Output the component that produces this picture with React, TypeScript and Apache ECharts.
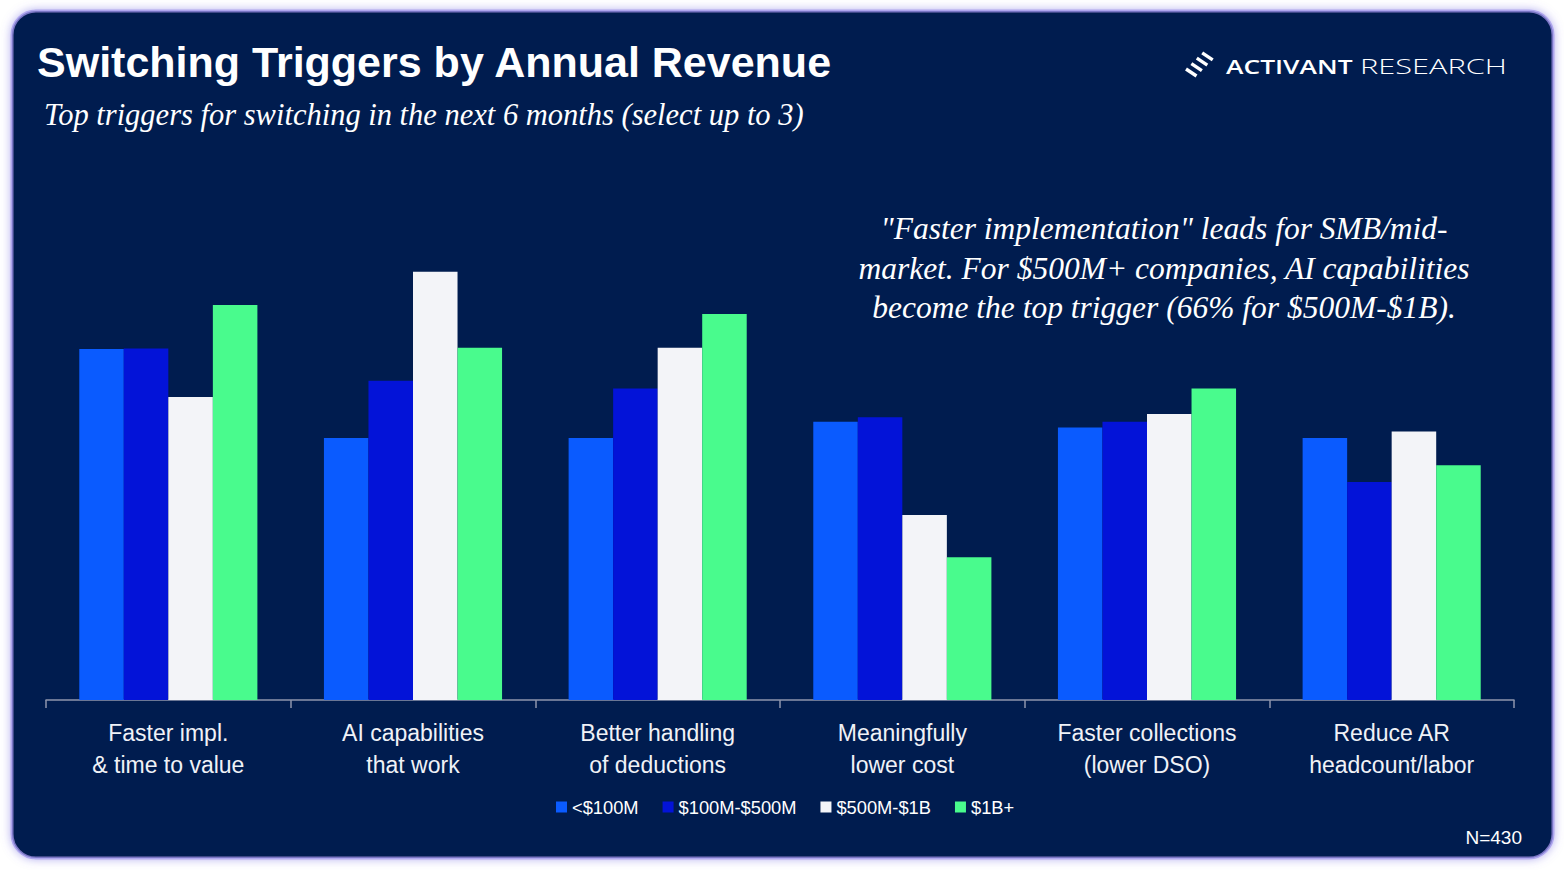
import React, { useEffect, useRef } from "react";
import * as echarts from "echarts";

const categories = [
  "Faster impl.\n& time to value",
  "AI capabilities\nthat work",
  "Better handling\nof deductions",
  "Meaningfully\nlower cost",
  "Faster collections\n(lower DSO)",
  "Reduce AR\nheadcount/labor",
];
const seriesNames = ["<$100M", "$100M-$500M", "$500M-$1B", "$1B+"];
const revUnder100M = [54.1, 40.4, 40.4, 42.9, 42.0, 40.4];
const rev100Mto500M = [54.2, 49.2, 48.0, 43.6, 42.9, 33.6];
const rev500Mto1B = [46.7, 66.0, 54.3, 28.5, 44.1, 41.4];
const rev1BPlus = [60.9, 54.3, 59.5, 22.0, 48.0, 36.2];
const seriesColors = ["#0a5bff", "#0313d8", "#f3f4f8", "#49fb8d"];

const titleText = "Switching Triggers by Annual Revenue";
const subtitleText = "Top triggers for switching in the next 6 months (select up to 3)";
const annotationText =
  "\"Faster implementation\" leads for SMB/mid-\nmarket. For $500M+ companies, AI capabilities\nbecome the top trigger (66% for $500M-$1B).";
const sampleText = "N=430";

const SANS = "'Liberation Sans', Arial, Helvetica, sans-serif";
const SERIF = "'Liberation Serif', 'Times New Roman', serif";

export default function App() {
  const ref = useRef<HTMLDivElement>(null);

  useEffect(() => {
    if (!ref.current) return;
    const chart = echarts.init(ref.current, undefined, { renderer: "svg" });
    const allData = [revUnder100M, rev100Mto500M, rev500Mto1B, rev1BPlus];

    const stripes = [0, 1, 2, 3].map((k) => ({
      type: "line",
      z: 5,
      shape: {
        x1: 1186 + 5.4 * k,
        y1: 69 - 5.4 * k,
        x2: 1196.5 + 5.4 * k,
        y2: 76 - 5.4 * k,
      },
      style: { stroke: "#ffffff", lineWidth: 3.4, lineCap: "butt" },
    }));

    chart.setOption({
      animation: false,
      backgroundColor: "#ffffff",
      graphic: [
        {
          type: "rect",
          z: 0,
          shape: { x: 12, y: 11, width: 1541, height: 847, r: 24 },
          style: {
            fill: "#061b50",
            stroke: "rgba(160,150,235,0.75)",
            lineWidth: 3,
            shadowBlur: 10,
            shadowColor: "rgba(110,100,225,0.55)",
          },
        },
        {
          type: "text",
          z: 5,
          x: 37,
          y: 62,
          style: {
            text: titleText,
            fill: "#ffffff",
            font: `bold 43px ${SANS}`,
            textAlign: "left",
            textVerticalAlign: "middle",
          },
        },
        {
          type: "text",
          z: 5,
          x: 44,
          y: 115,
          style: {
            text: subtitleText,
            fill: "#ffffff",
            font: `italic 30.5px ${SERIF}`,
            textAlign: "left",
            textVerticalAlign: "middle",
          },
        },
        {
          type: "text",
          z: 5,
          x: 1164,
          y: 209,
          style: {
            text: annotationText,
            fill: "#ffffff",
            font: `italic 31.5px ${SERIF}`,
            lineHeight: 39.5,
            textAlign: "center",
            textVerticalAlign: "top",
          },
        },
        ...stripes,
        {
          type: "text",
          z: 5,
          x: 1226,
          y: 66,
          scaleX: 1.32,
          style: {
            text: "ACTIVANT",
            fill: "#ffffff",
            font: `600 20px 'Open Sans', 'DejaVu Sans', sans-serif`,
            textAlign: "left",
            textVerticalAlign: "middle",
          },
        },
        {
          type: "text",
          z: 5,
          x: 1360,
          y: 66,
          scaleX: 1.5,
          style: {
            text: "RESEARCH",
            fill: "#ffffff",
            font: `300 20.5px 'Open Sans', 'DejaVu Sans', sans-serif`,
            textAlign: "left",
            textVerticalAlign: "middle",
          },
        },
        {
          type: "text",
          z: 5,
          x: 1522,
          y: 837,
          style: {
            text: sampleText,
            fill: "#ffffff",
            font: `19px ${SANS}`,
            textAlign: "right",
            textVerticalAlign: "middle",
          },
        },
      ],
      legend: {
        data: seriesNames,
        left: 556,
        top: 798,
        padding: 0,
        itemWidth: 11,
        itemHeight: 11,
        itemGap: 24,
        icon: "rect",
        textStyle: { color: "#ffffff", fontSize: 18.3, fontFamily: SANS },
      },
      grid: { left: 46, right: 50, top: 181, bottom: 170, containLabel: false },
      xAxis: {
        type: "category",
        data: categories,
        axisLine: { show: true, lineStyle: { color: "#8e95ad", width: 1.5 } },
        axisTick: { show: true, length: 8, lineStyle: { color: "#8e95ad", width: 1.5 } },
        axisLabel: {
          color: "#f0f2f7",
          fontSize: 23,
          fontFamily: SANS,
          lineHeight: 32,
          margin: 17,
          interval: 0,
        },
      },
      yAxis: {
        type: "value",
        min: 0,
        max: 80,
        show: false,
        splitLine: { show: false },
      },
      series: seriesNames.map((name, i) => ({
        name,
        type: "bar",
        data: allData[i],
        barGap: "0%",
        barCategoryGap: "27.2%",
        itemStyle: { color: seriesColors[i] },
        emphasis: { disabled: true },
      })),
    });

    return () => chart.dispose();
  }, []);

  return (
    <div
      ref={ref}
      style={{ position: "fixed", left: 0, top: 0, width: 1564, height: 870 }}
    />
  );
}
